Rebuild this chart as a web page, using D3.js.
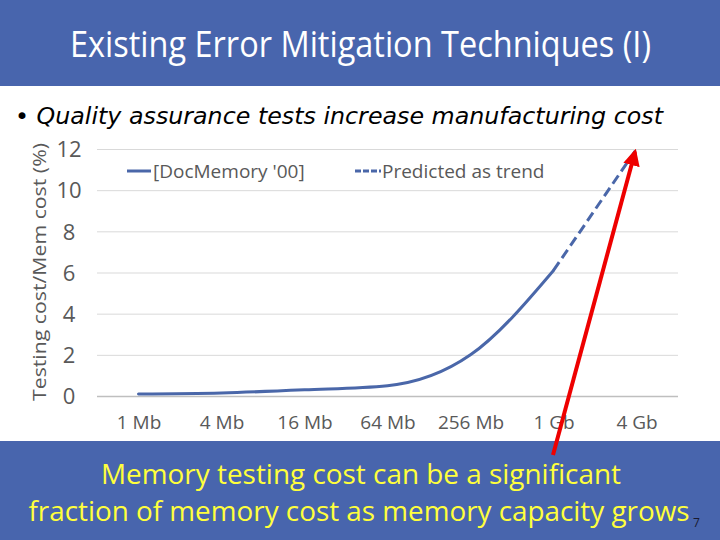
<!DOCTYPE html>
<meta charset="utf-8">
<style>
  body { margin: 0; background: #fff; }
  text.title { font-family: 'Open Sans', sans-serif; fill: #fff; }
  text.bullet { font-family: 'DejaVu Sans', sans-serif; font-style: italic; fill: #000; }
  .axis text { font-family: 'Open Sans', sans-serif; fill: #595959; }
  .axis path { display: none; }
  .legend text { font-family: 'Open Sans', sans-serif; fill: #595959; font-size: 19px; }
  text.note { font-family: 'Open Sans', sans-serif; fill: #ffff3c; font-size: 28px; text-anchor: middle; }
</style>
<script src="https://d3js.org/d3.v7.min.js"></script>
<div id="my_dataviz"></div>
<script>
// chart data
var categories = ["1 Mb", "4 Mb", "16 Mb", "64 Mb", "256 Mb", "1 Gb", "4 Gb"];
var measured   = [0.1, 0.15, 0.3, 0.5, 2.0, 6.1, null];
var predicted  = [null, null, null, null, null, 6.1, 12];
var yTicks     = [0, 2, 4, 6, 8, 10, 12];

var W = 720, H = 540;
var blue = "#4865ad", lineBlue = "#4a67a9";

var svg = d3.select("#my_dataviz")
  .append("svg")
    .attr("width", W)
    .attr("height", H);

// header banner
svg.append("rect").attr("x", 0).attr("y", 0).attr("width", W).attr("height", 86).attr("fill", blue);
svg.append("text")
  .attr("class", "title")
  .attr("x", 70).attr("y", 57)
  .attr("font-size", 36)
  .attr("textLength", 581).attr("lengthAdjust", "spacingAndGlyphs")
  .text("Existing Error Mitigation Techniques (I)");

svg.append("text")
  .attr("class", "bullet")
  .attr("x", 15).attr("y", 124)
  .attr("font-size", 23)
  .attr("textLength", 648).attr("lengthAdjust", "spacingAndGlyphs")
  .text("\u2022 Quality assurance tests increase manufacturing cost");

// plot area
var plotLeft = 97, plotRight = 678, plotTop = 149, plotBottom = 396;

var x = d3.scalePoint()
  .domain(categories)
  .range([plotLeft, plotRight])
  .padding(0.5);

var y = d3.scaleLinear()
  .domain([0, 12])
  .range([plotBottom, plotTop]);

// grid + y labels
var yAxis = svg.append("g")
  .attr("class", "axis")
  .attr("transform", "translate(" + plotLeft + ",0)")
  .call(d3.axisLeft(y).tickValues(yTicks).tickSize(-(plotRight - plotLeft)).tickPadding(16));
yAxis.selectAll(".tick line")
  .attr("stroke", function(d) { return d === 0 ? "#bfbfbf" : "#d9d9d9"; })
  .attr("stroke-width", function(d) { return d === 0 ? 1.5 : 1; });
yAxis.selectAll(".tick text")
  .attr("font-size", 22)
  .attr("text-anchor", "middle")
  .attr("x", 69 - plotLeft)
  .attr("dy", "0.35em");

// x labels
var xAxis = svg.append("g")
  .attr("class", "axis")
  .attr("transform", "translate(0," + plotBottom + ")")
  .call(d3.axisBottom(x).tickSize(0).tickPadding(20));
xAxis.selectAll(".tick text").attr("font-size", 19).attr("dy", "0.71em");

// y title
svg.append("text")
  .attr("transform", "translate(46,272) rotate(-90)")
  .attr("text-anchor", "middle")
  .attr("font-family", "'Open Sans', sans-serif")
  .attr("font-size", 18)
  .attr("fill", "#595959")
  .attr("textLength", 258).attr("lengthAdjust", "spacingAndGlyphs")
  .text("Testing cost/Mem cost (%)");

// series
var idx = d3.range(categories.length);
var line = function(vals) {
  return d3.line()
    .defined(function(i) { return vals[i] != null; })
    .x(function(i) { return x(categories[i]); })
    .y(function(i) { return y(vals[i]); })
    .curve(d3.curveMonotoneX)(idx);
};

svg.append("path")
  .attr("d", line(measured))
  .attr("fill", "none")
  .attr("stroke", lineBlue)
  .attr("stroke-width", 3)
  .attr("stroke-linecap", "round");

svg.append("path")
  .attr("d", line(predicted))
  .attr("fill", "none")
  .attr("stroke", lineBlue)
  .attr("stroke-width", 3)
  .attr("stroke-dasharray", "10,5");

// legend
var lg = svg.append("g").attr("class", "legend");
lg.append("line").attr("x1", 127).attr("x2", 151).attr("y1", 171).attr("y2", 171)
  .attr("stroke", lineBlue).attr("stroke-width", 3);
lg.append("text").attr("x", 153).attr("y", 178).text("[DocMemory '00]");
lg.append("line").attr("x1", 355).attr("x2", 381).attr("y1", 171).attr("y2", 171)
  .attr("stroke", lineBlue).attr("stroke-width", 3).attr("stroke-dasharray", "6,2");
lg.append("text").attr("x", 382).attr("y", 178).text("Predicted as trend");

// footer banner
svg.append("rect").attr("x", 0).attr("y", 441).attr("width", W).attr("height", H - 441).attr("fill", blue);
svg.append("text").attr("class", "note").attr("x", 361).attr("y", 484)
  .attr("textLength", 520).attr("lengthAdjust", "spacingAndGlyphs")
  .text("Memory testing cost can be a significant");
svg.append("text").attr("class", "note").attr("x", 359).attr("y", 521)
  .attr("textLength", 661).attr("lengthAdjust", "spacingAndGlyphs")
  .text("fraction of memory cost as memory capacity grows");
svg.append("text").attr("x", 693).attr("y", 527)
  .attr("font-family", "'Open Sans', sans-serif").attr("font-size", 12).attr("fill", "#1a1a2e")
  .text("7");

// red arrow
var defs = svg.append("defs");
defs.append("marker")
  .attr("id", "arrowhead")
  .attr("viewBox", "0 0 10 10")
  .attr("refX", 8).attr("refY", 5)
  .attr("markerWidth", 4.2).attr("markerHeight", 4.2)
  .attr("orient", "auto")
  .append("path").attr("d", "M0,0 L10,5 L0,10 z").attr("fill", "#ee0000");
svg.append("line")
  .attr("x1", 553).attr("y1", 455)
  .attr("x2", 635).attr("y2", 152)
  .attr("stroke", "#ee0000")
  .attr("stroke-width", 4)
  .attr("marker-end", "url(#arrowhead)");
</script>
